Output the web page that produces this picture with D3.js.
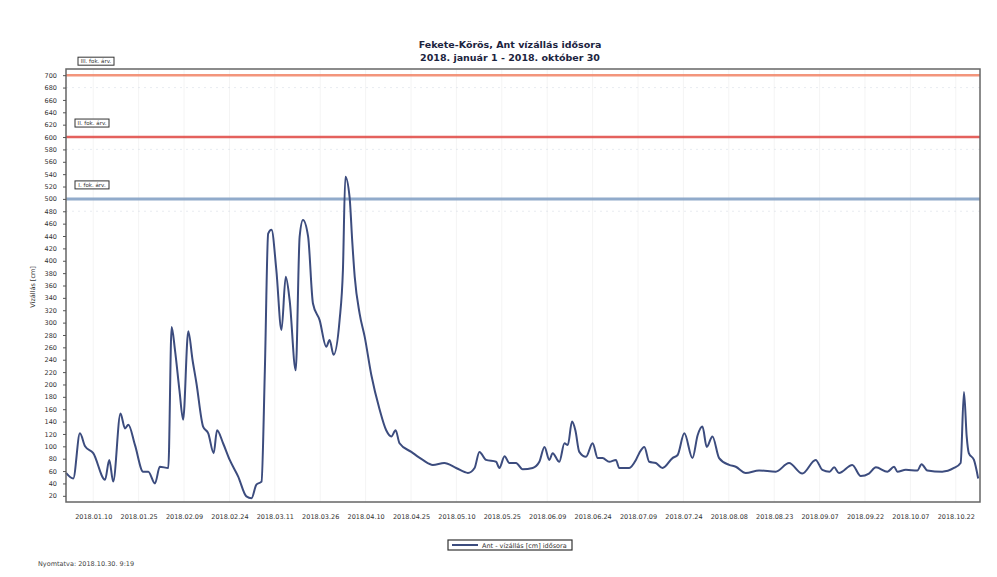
<!DOCTYPE html>
<html><head><meta charset="utf-8">
<script src="https://cdn.jsdelivr.net/npm/d3@7"></script>
<style>body{margin:0;background:#fff;} svg{display:block;}</style>
</head><body>
<svg id="c" width="997" height="577"></svg>
<script>
const titleLines = ["Fekete-Körös, Ant vízállás idősora", "2018. január 1 - 2018. október 30"];
const yLabel = "Vízállás [cm]";
const legendLabel = "Ant - vízállás [cm] idősora";
const footer = "Nyomtatva: 2018.10.30. 9:19";
const yTicks = d3.range(20, 701, 20);
const xTickDates = ["2018-01-10","2018-01-25","2018-02-09","2018-02-24","2018-03-11","2018-03-26","2018-04-10","2018-04-25","2018-05-10","2018-05-25","2018-06-09","2018-06-24","2018-07-09","2018-07-24","2018-08-08","2018-08-23","2018-09-07","2018-09-22","2018-10-07","2018-10-22"];
const thresholdNames = ["III. fok. árv.", "II. fok. árv.", "I. fok. árv."];
const thresholdValues = [700, 600, 500];
const thresholdColors = ["#f28a6e", "#e2504c", "#86a2c6"];
// day offset from 2018-01-01, water level in cm
const days = [0,2.4,4.6,6.3,9,12.9,14.3,15.6,18,19.5,20.6,22.8,25.5,27.2,29.4,31,33.8,34.9,36,37.5,38.7,40.4,41.8,43.1,45.3,47,48.8,49.9,51.9,54.1,56.9,59.6,61.3,62.9,64.6,65.7,66.8,67.9,69.5,71.2,72.6,73.9,75.9,77.2,78.3,80,81.6,83.8,86,87.1,88.4,90.4,91.5,92.3,93.7,94.6,95.4,97,98.7,100.9,103.6,105.8,107.5,108.9,110.2,114.1,117.9,121.2,125,128.9,132.8,135,136.6,138.8,142.1,143.2,144.9,146.5,148.7,150.9,154.2,156.4,158.1,159.7,160.8,163,164.7,165.8,167.2,168.3,169.6,171.8,174,175.7,177.3,179.5,181.7,182.8,186.1,188.3,189.4,191.1,192.7,194.9,197.1,200.4,202.1,204.3,207,208.7,210.3,211.7,213.6,215.8,219.1,221.3,224.6,229,234.5,238.9,243.3,247.7,249.9,252.3,253.8,255.4,259.8,262.6,265.3,267.6,271.4,273.6,274.7,277.5,281.3,282.7,284.6,289.5,293.4,295.6,296.7,297.6,298.3,300,301.4];
const levels = [57,48,121,100,89,46,78,43,153,129,135,102,59,59,40,67,65,293,256,190,143,286,240,202,132,121,89,126,105,78,51,19,16,38,43,222,444,450,385,288,374,336,223,439,466,439,331,304,261,272,248,304,385,536,503,430,374,315,277,215,160,126,116,126,105,91,78,70,73,65,57,65,91,78,75,65,84,73,73,63,65,75,99,78,89,75,105,102,140,126,91,83,105,81,81,75,78,65,65,78,89,99,75,73,65,81,86,121,81,118,132,99,116,81,70,67,57,61,59,73,56,78,62,59,66,57,70,52,56,66,59,67,59,62,61,71,61,59,65,73,188,116,89,78,48];

const svg = d3.select("#c");
const font = "'DejaVu Sans', Verdana, sans-serif";
const L = 66, R = 980, T = 69, B = 502;
const t0 = new Date(2018,0,1);
const dayMs = 86400000;
const x = d3.scaleTime().domain([t0, new Date(2018,9,30)]).range([L, R]);
const y = d3.scaleLinear().domain([10, 710]).range([B, T]);
const parse = d3.timeParse("%Y-%m-%d");
const fmt = d3.timeFormat("%Y.%m.%d");
const data = days.map((d,i)=>({date:new Date(t0.getTime()+d*dayMs), v:levels[i]}));

// title
svg.selectAll("text.title").data(titleLines).join("text")
  .attr("x", 510).attr("y",(d,i)=>48+i*13).attr("text-anchor","middle")
  .attr("font-family",font).attr("font-weight","bold").attr("font-size",9.5).attr("fill","#1c2440").text(d=>d);

// faint vertical grid
svg.append("g").selectAll("line").data(xTickDates.map(parse)).join("line")
  .attr("x1",d=>x(d)).attr("x2",d=>x(d)).attr("y1",T).attr("y2",B)
  .attr("stroke","#f4f4f4").attr("stroke-width",1);

// faint dotted lines under thresholds
svg.append("g").selectAll("line").data(thresholdValues.map(v=>v-20)).join("line")
  .attr("x1",L).attr("x2",R).attr("y1",d=>y(d)).attr("y2",d=>y(d))
  .attr("stroke","#d4dbe6").attr("stroke-width",1).attr("stroke-dasharray","2,4").attr("opacity",0.5);

// threshold lines
svg.append("g").selectAll("line").data(thresholdValues).join("line")
  .attr("x1",L).attr("x2",R).attr("y1",d=>y(d)).attr("y2",d=>y(d))
  .attr("stroke",(d,i)=>thresholdColors[i]).attr("stroke-width",(d,i)=>i==2?3:2.5).attr("opacity",0.9);

// threshold labels
const tl = svg.append("g").selectAll("g").data(thresholdValues).join("g")
  .attr("transform",(d,i)=>`translate(${i==0?78:75},${y(d)-18})`);
tl.append("rect").attr("width",(d,i)=>i==0?36:34).attr("height",8).attr("fill","#fff").attr("stroke","#333").attr("stroke-width",1);
tl.append("text").attr("x",(d,i)=>i==0?18:17).attr("y",6.3).attr("text-anchor","middle").attr("font-family",font)
  .attr("font-size",5.5).attr("fill","#333").text((d,i)=>thresholdNames[i]);

// series line
svg.append("path").datum(data)
  .attr("d", d3.line().x(d=>x(d.date)).y(d=>y(d.v)).curve(d3.curveMonotoneX))
  .attr("fill","none").attr("stroke","#3c4c7e").attr("stroke-width",2).attr("stroke-linejoin","round");

// frame
svg.append("rect").attr("x",L).attr("y",T).attr("width",R-L).attr("height",B-T)
  .attr("fill","none").attr("stroke","#666").attr("stroke-width",1.5);

// y axis
const ya = svg.append("g").attr("transform",`translate(${L},0)`)
  .call(d3.axisLeft(y).tickValues(yTicks).tickSize(3).tickPadding(6));
ya.select(".domain").remove();
ya.selectAll("line").attr("stroke","#555");
ya.selectAll("text").attr("font-family",font).attr("font-size",6.5).attr("fill","#333");

// x axis
const xa = svg.append("g").attr("transform",`translate(0,${B})`)
  .call(d3.axisBottom(x).tickValues(xTickDates.map(parse)).tickFormat(fmt).tickSize(0).tickPadding(12));
xa.select(".domain").remove();
xa.selectAll("text").attr("font-family",font).attr("font-size",6.5).attr("fill","#333");

// y label
svg.append("text").attr("transform","translate(35,287) rotate(-90)").attr("text-anchor","middle")
  .attr("font-family",font).attr("font-size",6.5).attr("fill","#333").text(yLabel);

// legend
const lg = svg.append("g").attr("transform","translate(448,540)");
lg.append("rect").attr("width",124).attr("height",10).attr("fill","#fff").attr("stroke","#333").attr("stroke-width",1.2);
lg.append("line").attr("x1",4).attr("x2",30).attr("y1",5).attr("y2",5).attr("stroke","#3c4c7e").attr("stroke-width",2);
lg.append("text").attr("x",34).attr("y",7.5).attr("font-family",font).attr("font-size",6.5).attr("fill","#333").text(legendLabel);

// footer
svg.append("text").attr("x",38).attr("y",566).attr("font-family",font).attr("font-size",6.5).attr("fill","#444").text(footer);
</script>
</body></html>
